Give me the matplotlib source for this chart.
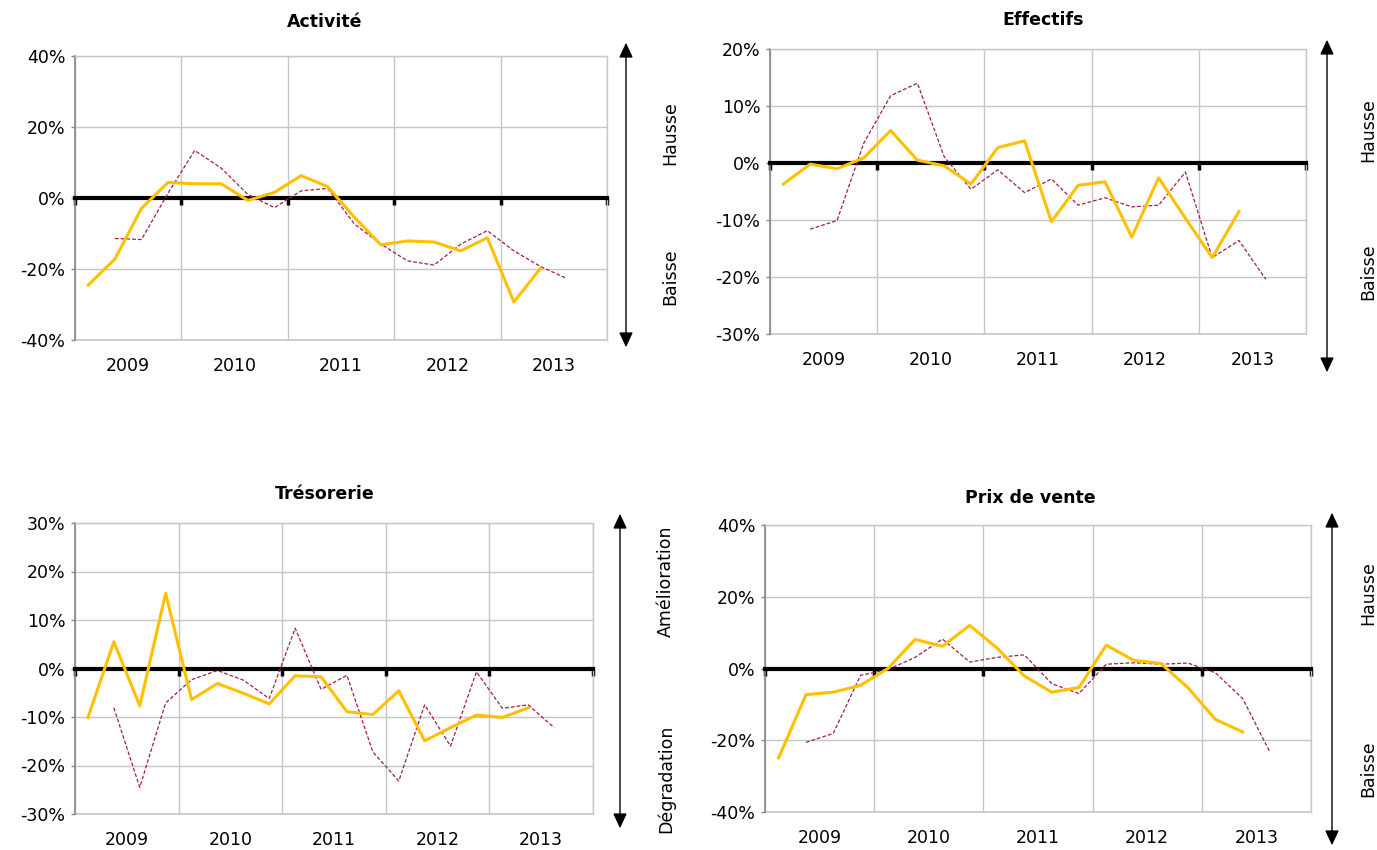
import matplotlib
matplotlib.use("Agg")
import matplotlib.pyplot as plt
import matplotlib.transforms as mtransforms
from matplotlib.patches import FancyArrowPatch
import numpy as np

nan = np.nan

# quarterly balances of opinion, Q1 2009 .. Q4 2013 (in %)
years = ["2009", "2010", "2011", "2012", "2013"]
n_quarters = 20

activite_obs = [-24.5, -17.2, -2.9, 4.4, 4.0, 4.0, -0.7, 1.6, 6.3, 3.2,
                -5.4, -13.2, -12.1, -12.4, -14.9, -11.2, -29.3, -19.8, nan, nan]
activite_prev = [nan, -11.4, -11.7, 1.4, 13.4, 8.4, 1.0, -2.7, 2.0, 2.7,
                 -7.3, -13.0, -17.7, -18.9, -13.0, -9.2, -14.9, -19.3, -22.7, nan]

effectifs_obs = [-3.7, -0.2, -1.0, 0.9, 5.7, 0.5, -0.5, -3.7, 2.7, 3.9,
                 -10.3, -3.9, -3.3, -13.0, -2.6, -9.7, -16.6, -8.5, nan, nan]
effectifs_prev = [nan, -11.6, -10.1, 3.5, 11.8, 14.0, 1.1, -4.6, -1.2, -5.2,
                  -2.8, -7.4, -6.1, -7.7, -7.4, -1.6, -16.6, -13.6, -20.4, nan]

tresorerie_obs = [-10.1, 5.5, -7.7, 15.5, -6.4, -3.1, -5.1, -7.3, -1.5, -1.7,
                  -8.9, -9.5, -4.6, -14.9, -12.2, -9.6, -10.1, -8.1, nan, nan]
tresorerie_prev = [nan, -8.1, -24.5, -7.1, -2.3, -0.4, -2.4, -6.2, 8.3, -4.3,
                   -1.4, -17.2, -23.2, -7.5, -16.0, -0.7, -8.2, -7.5, -12.2, nan]

prix_obs = [-24.9, -7.3, -6.6, -4.7, 0.0, 8.1, 6.2, 12.0, 5.7, -2.1,
            -6.6, -5.3, 6.5, 2.3, 1.4, -5.4, -14.2, -17.7, nan, nan]
prix_prev = [nan, -20.6, -18.1, -1.9, -0.3, 3.1, 8.2, 1.8, 3.1, 3.8,
             -4.2, -7.0, 1.2, 1.6, 1.2, 1.5, -1.2, -8.4, -23.4, nan]

YELLOW = "#FFC000"
DASHED = "#9E1E4E"
GRID = "#C6C6C6"
plt.rcParams["font.family"] = ["DejaVu Sans"]

W, H = 1377, 850
fig = plt.figure(figsize=(W / 100, H / 100), dpi=100)

panels = [
    dict(title="Activité", obs=activite_obs, prev=activite_prev,
         ylim=(-40, 40), step=20, box=(75, 56, 607, 340), tpos=(325, 22),
         arrow=(626, 40, 350), side=("Hausse", 133, "Baisse", 277, 670)),
    dict(title="Effectifs", obs=effectifs_obs, prev=effectifs_prev,
         ylim=(-30, 20), step=10, box=(770, 49, 1306, 334), tpos=(1043, 20),
         arrow=(1327, 37, 375), side=("Hausse", 130, "Baisse", 272, 1368)),
    dict(title="Trésorerie", obs=tresorerie_obs, prev=tresorerie_prev,
         ylim=(-30, 30), step=10, box=(75, 523, 593, 814), tpos=(325, 494),
         arrow=(620, 511, 831), side=("Amélioration", 581, "Dégradation", 779, 666)),
    dict(title="Prix de vente", obs=prix_obs, prev=prix_prev,
         ylim=(-40, 40), step=20, box=(765, 525, 1311, 812), tpos=(1030, 498),
         arrow=(1332, 510, 848), side=("Hausse", 593, "Baisse", 769, 1368)),
]

x = np.arange(n_quarters) + 0.5

for p in panels:
    l, t, r, b = p["box"]
    ax = fig.add_axes([l / W, 1 - b / H, (r - l) / W, (b - t) / H])
    ax.set_xlim(0, n_quarters)
    ax.set_ylim(*p["ylim"])
    yt = np.arange(p["ylim"][0], p["ylim"][1] + 1, p["step"])
    ax.set_yticks(yt)
    ax.set_yticklabels([f"{v}%" for v in yt], fontsize=12.5)
    ax.set_xticks(np.arange(0, n_quarters + 1, 4))
    ax.set_xticklabels([])

    ax.grid(True, color=GRID, linewidth=1.0)
    ax.set_axisbelow(True)
    for s in ("top", "right"):
        ax.spines[s].set_color(GRID)
        ax.spines[s].set_linewidth(1.0)
    ax.spines["left"].set_color("#868686")
    ax.spines["left"].set_linewidth(1.2)
    ax.spines["bottom"].set_position(("data", 0))
    ax.spines["bottom"].set_color("black")
    ax.spines["bottom"].set_linewidth(3.0)
    ax.spines["bottom"].set_zorder(3)
    ax.tick_params(axis="y", length=3, width=1, color="#868686", pad=4)
    ax.tick_params(axis="x", length=5, width=2.5, color="black", direction="out")

    # bottom edge gridline (the spine moved to zero)
    ax.axhline(p["ylim"][0], color=GRID, linewidth=1.2, zorder=0.5, clip_on=False)

    ax.plot(x, p["prev"], color=DASHED, linewidth=0.9, dashes=(3, 1.6), zorder=4)
    ax.plot(x, p["obs"], color=YELLOW, linewidth=2.2, zorder=5)

    trans = mtransforms.blended_transform_factory(ax.transData, ax.transAxes) + \
        mtransforms.ScaledTranslation(0, -0.26, fig.dpi_scale_trans)
    for i, yr in enumerate(years):
        ax.text(4 * i + 2, 0, yr, transform=trans, ha="center", va="center",
                fontsize=12.5)

    tx, ty = p["tpos"]
    fig.text(tx / W, 1 - ty / H, p["title"], ha="center", va="center",
             fontsize=12.5, fontweight="bold")

    axx, atop, abot = p["arrow"]
    fig.add_artist(FancyArrowPatch(
        (axx / W, 1 - abot / H), (axx / W, 1 - atop / H),
        transform=fig.transFigure, arrowstyle="<|-|>,head_length=6,head_width=2.8",
        mutation_scale=1.5, color="black", linewidth=1.0))

    up, uy, down, dy, sx = p["side"]
    fig.text(sx / W, 1 - uy / H, up, rotation=90, ha="center", va="center",
             fontsize=12.5)
    fig.text(sx / W, 1 - dy / H, down, rotation=90, ha="center", va="center",
             fontsize=12.5)

fig.savefig("out.png", dpi=100)
